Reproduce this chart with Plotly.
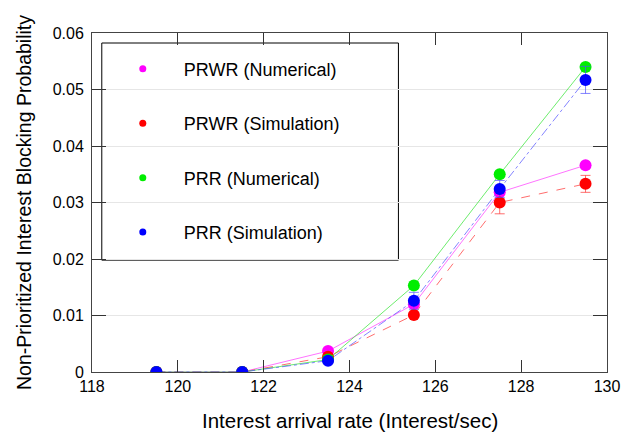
import plotly.graph_objects as go

# arrival rate (Interest/sec)
x = [119.5, 121.5, 123.5, 125.5, 127.5, 129.5]

prwr_num = [0, 0, 0.0037, 0.0120, 0.0318, 0.0366]
prwr_sim = [0, 0, 0.0027, 0.0101, 0.0300, 0.0333]
prwr_sim_err = [0, 0, 0.0003, 0.0005, 0.0020, 0.0015]
prr_num = [0, 0, 0.0022, 0.0153, 0.0350, 0.0540]
prr_sim = [0, 0, 0.0020, 0.0126, 0.0324, 0.0517]
prr_sim_err = [0, 0, 0.0003, 0.0015, 0.0015, 0.0024]

series = [
    ("PRWR (Numerical)", prwr_num, None, "#ff00ff", "rgba(255,80,255,0.8)", "solid"),
    ("PRWR (Simulation)", prwr_sim, prwr_sim_err, "#ff0000", "rgba(255,60,60,0.75)", "dash"),
    ("PRR (Numerical)", prr_num, None, "#00ee00", "rgba(60,230,60,0.75)", "solid"),
    ("PRR (Simulation)", prr_sim, prr_sim_err, "#0000ff", "rgba(80,80,255,0.7)", "dashdot"),
]

fig = go.Figure()

for name, y, err, mcol, lcol, dash in series:
    eb = None
    if err is not None:
        eb = dict(type="data", array=err, visible=True, color=lcol, thickness=1, width=5)
    fig.add_trace(go.Scatter(
        x=x, y=y, mode="lines+markers", name=name, showlegend=False,
        line=dict(color=lcol, width=1, dash=dash),
        marker=dict(color=mcol, size=12),
        error_y=eb,
    ))

# legend-only entries (small dots, no lines)
for i, (name, y, err, mcol, lcol, dash) in enumerate(series):
    fig.add_trace(go.Scatter(
        x=[None], y=[None], mode="markers", name=name,
        marker=dict(color=mcol, size=7), legendgroup="g%d" % i,
    ))

# white framed box behind the legend entries
fig.add_shape(type="rect", xref="paper", yref="paper",
              x0=0.019, x1=0.595, y0=0.330, y1=0.9705,
              fillcolor="white", line=dict(color="black", width=1), layer="between")

# x axis title as annotation (keeps plot area fixed)
fig.add_annotation(text="Interest arrival rate (Interest/sec)", xref="paper", yref="paper",
                   x=0.5, y=-0.1445, xanchor="center", yanchor="middle",
                   showarrow=False, font=dict(size=20.5))

fig.update_layout(
    width=632, height=434,
    margin=dict(l=92, r=16, t=33, b=62),
    paper_bgcolor="white", plot_bgcolor="white",
    font=dict(family="Liberation Sans, Arial", size=16, color="black"),
    legend=dict(
        x=0.019, y=0.948, xanchor="left", yanchor="top",
        bgcolor="rgba(0,0,0,0)", borderwidth=0,
        font=dict(size=18), tracegroupgap=28, itemwidth=72,
    ),
)

fig.update_xaxes(
    range=[118, 130], dtick=2, tick0=118,
    showline=True, linecolor="#444", linewidth=1, mirror="ticks",
    ticks="inside", ticklen=12, tickcolor="#333",
    showgrid=False, zeroline=False,
)
fig.update_yaxes(
    range=[0, 0.06], dtick=0.01,
    showline=True, linecolor="#444", linewidth=1, mirror="ticks",
    ticks="inside", ticklen=14, tickcolor="#333", ticklabelstandoff=4,
    showgrid=True, gridcolor="#e6e6e6", zeroline=False,
    title=dict(text="Non-Prioritized Interest Blocking Probability", font=dict(size=19.5)),
)

fig.write_html("out.html", config={"displayModeBar": False},
               post_script="document.body.style.margin='0';document.body.style.overflow='hidden';")
